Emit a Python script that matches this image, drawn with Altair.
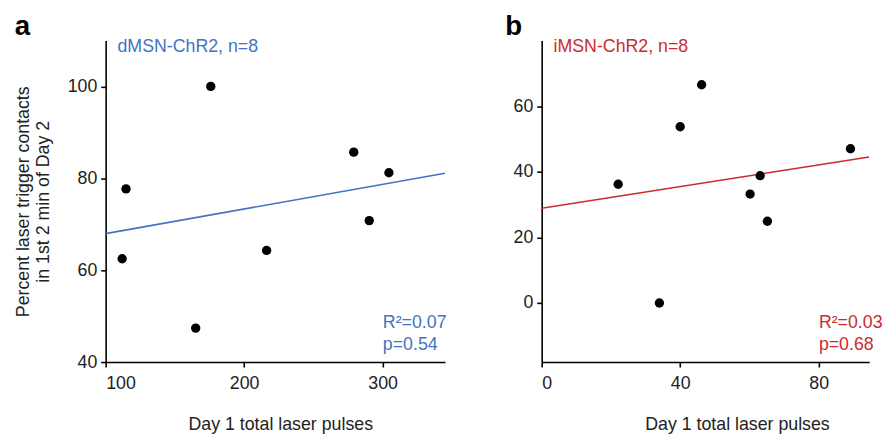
import altair as alt
import pandas as pd

# Panel a: dMSN-ChR2
a_x = [111.9, 114.7, 165.0, 175.9, 216.2, 279.1, 290.3, 304.5]
a_y = [62.5, 77.7, 47.4, 100.0, 64.3, 85.7, 70.8, 81.2]
# Panel b: iMSN-ChR2
b_x = [22.1, 34.0, 40.0, 46.2, 60.2, 63.1, 65.2, 89.2]
b_y = [36.2, 0.0, 53.7, 66.5, 33.2, 38.8, 24.9, 47.0]

a_label = "dMSN-ChR2, n=8"
b_label = "iMSN-ChR2, n=8"
a_stats = ["R\u00b2=0.07", "p=0.54"]
b_stats = ["R\u00b2=0.03", "p=0.68"]
a_ticks_x = [100, 200, 300]
a_ticks_y = [40, 60, 80, 100]
b_ticks_x = [0, 40, 80]
b_ticks_y = [0, 20, 40, 60]

BLUE = "#4472C4"
RED = "#CC2B2B"
FONT = "Liberation Sans"

dfa = pd.DataFrame({"x": a_x, "y": a_y})
dfb = pd.DataFrame({"x": b_x, "y": b_y})

W_A, W_B, H = 344, 332, 326


def panel(df, xdom, ydom, xticks, yticks, color, label, stats, letter, width, ytitle,
          xtitle_x, letter_dx):
    xs = alt.Scale(domain=xdom, nice=False, zero=False)
    ys = alt.Scale(domain=ydom, nice=False, zero=False)
    xax = alt.Axis(values=xticks, title="Day 1 total laser pulses", titlePadding=23,
                   labelPadding=8, titleX=xtitle_x, titleAlign="center")
    yax = alt.Axis(values=yticks, title=ytitle, titlePadding=15, labelPadding=4)
    base = alt.Chart(df)
    one = alt.Chart(pd.DataFrame({"label": [label]}))
    pts = base.mark_circle(size=90, color="black", opacity=1).encode(
        x=alt.X("x:Q", scale=xs, axis=xax),
        y=alt.Y("y:Q", scale=ys, axis=yax),
    )
    line = base.transform_regression("x", "y", extent=xdom).mark_line(
        color=color, strokeWidth=1.6, clip=True
    ).encode(x=alt.X("x:Q", scale=xs), y=alt.Y("y:Q", scale=ys))
    lab = one.mark_text(align="left", baseline="alphabetic", fontSize=18,
                        fontWeight="normal", color=color, font=FONT).encode(
        text="label:N", x=alt.value(12), y=alt.value(12))
    st = one.mark_text(text=stats, align="left", baseline="alphabetic", fontSize=18,
                       fontWeight="normal", lineHeight=23, color=color, font=FONT).encode(
        x=alt.value(281), y=alt.value(291))
    return alt.layer(line, pts, lab, st).properties(
        width=width, height=H,
        title=alt.TitleParams(letter, anchor="start", frame="bounds", fontSize=28,
                              fontWeight="bold", font=FONT, color="black", offset=-2,
                              dx=letter_dx),
    )


pa = panel(dfa, [100, 345], [40, 110], a_ticks_x, a_ticks_y, BLUE, a_label, a_stats, "a",
           W_A, ["Percent laser trigger contacts", "in 1st 2 min of Day 2"], W_A / 2 + 5, 0)
pb = panel(dfb, [0, 94.6], [-18, 80], b_ticks_x, b_ticks_y, RED, b_label, b_stats, "b",
           W_B, "", 198, -8)

chart = alt.hconcat(pa, pb, spacing=58).properties(
    padding={"left": 6, "top": 2, "right": 0, "bottom": 0}
).configure_view(stroke=None).configure_axis(
    domainColor="black", domainWidth=1.6, tickColor="black", tickWidth=1.6, tickSize=5,
    labelFontSize=18, titleFontSize=18, labelFont=FONT, titleFont=FONT,
    labelColor="#222222", titleColor="#222222", titleFontWeight="normal", grid=False,
).configure_axisY(labelAngle=0)

chart.save("out.html", embed_options={"renderer": "svg", "actions": False})
